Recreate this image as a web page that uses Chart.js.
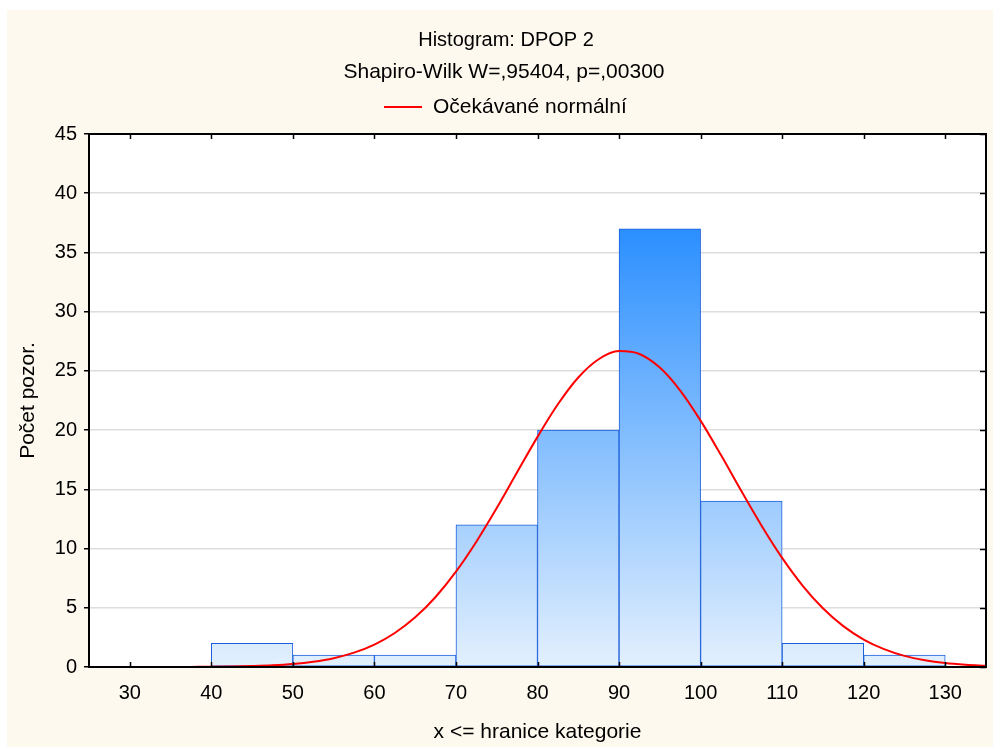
<!DOCTYPE html>
<html>
<head>
<meta charset="utf-8">
<script src="https://cdn.jsdelivr.net/npm/chart.js@4/dist/chart.umd.min.js"></script>
<style>
  html, body { margin: 0; padding: 0; background: #ffffff; }
  #wrap { width: 993px; height: 747px; }
</style>
</head>
<body>
<div id="wrap"><canvas id="c" width="993" height="747"></canvas></div>
<script>
// ---- data ----
const titleText = 'Histogram: DPOP 2';
const subtitleText = 'Shapiro-Wilk W=,95404, p=,00300';
const curveLabel = 'Očekávané normální';
const xAxisTitle = 'x <= hranice kategorie';
const yAxisTitle = 'Počet pozor.';

const binCenters = [35, 45, 55, 65, 75, 85, 95, 105, 115, 125];
const binCounts  = [0, 2, 1, 1, 12, 20, 37, 14, 2, 1];

const curveX = [25, 27.5, 30, 32.5, 35, 37.5, 40, 42.5, 45, 47.5, 50, 52.5, 55, 57.5, 60, 62.5, 65, 67.5, 70, 72.5,
                75, 77.5, 80, 82.5, 85, 87.5, 90, 92.5, 95, 97.5, 100, 102.5, 105, 107.5, 110, 112.5, 115, 117.5,
                120, 122.5, 125, 127.5, 130, 132.5, 135];
const curveY = [0.00, 0.00, 0.00, 0.00, 0.00, 0.01, 0.02, 0.04, 0.08, 0.14, 0.25, 0.44, 0.74, 1.21, 1.89, 2.87, 4.19, 5.91, 8.05, 10.58,
                13.42, 16.44, 19.43, 22.18, 24.44, 25.98, 26.67, 26.43, 25.28, 23.34, 20.80, 17.89, 14.86, 11.91, 9.21, 6.88, 4.96, 3.45,
                2.32, 1.51, 0.94, 0.57, 0.33, 0.19, 0.10];

const xTicks = [30, 40, 50, 60, 70, 80, 90, 100, 110, 120, 130];
const yTicks = [0, 5, 10, 15, 20, 25, 30, 35, 40, 45];

// ---- styling ----
const FONT = '"Liberation Sans", Arial, sans-serif';
const CREAM = '#fdf9ee';

const framePlugin = {
  id: 'frame',
  beforeDraw(chart) {
    const ctx = chart.ctx, a = chart.chartArea;
    ctx.save();
    ctx.fillStyle = '#ffffff';
    ctx.fillRect(0, 0, chart.width, chart.height);
    ctx.fillStyle = CREAM;
    ctx.fillRect(7, 10, chart.width - 7, chart.height - 10);
    ctx.fillStyle = '#ffffff';
    ctx.fillRect(a.left, a.top, a.right - a.left, a.bottom - a.top);
    ctx.restore();
  },
  afterDraw(chart) {
    const ctx = chart.ctx, a = chart.chartArea;
    const xs = chart.scales.x, ys = chart.scales.y;
    ctx.save();
    // inward ticks
    ctx.strokeStyle = '#000';
    ctx.lineWidth = 1.5;
    ctx.beginPath();
    xTicks.forEach(v => {
      const px = Math.round(xs.getPixelForValue(v)) + 0.5;
      ctx.moveTo(px, a.bottom); ctx.lineTo(px, a.bottom - 5);
      ctx.moveTo(px, a.top); ctx.lineTo(px, a.top + 5);
    });
    yTicks.forEach(v => {
      const py = Math.round(ys.getPixelForValue(v)) + 0.5;
      ctx.moveTo(a.right, py); ctx.lineTo(a.right - 6, py);
    });
    ctx.stroke();
    // border
    ctx.lineWidth = 2;
    ctx.strokeRect(a.left, a.top, a.right - a.left, a.bottom - a.top);

    // titles
    ctx.fillStyle = '#000';
    ctx.textAlign = 'center';
    ctx.textBaseline = 'middle';
    ctx.font = '20px ' + FONT;
    ctx.fillText(chart.options.plugins.customText.title, 506, 40);
    ctx.font = '21px ' + FONT;
    ctx.fillText(chart.options.plugins.customText.subtitle, 504, 72);
    // legend (from the line dataset)
    const ds = chart.data.datasets.find(d => d.type === 'line');
    ctx.strokeStyle = ds.borderColor;
    ctx.lineWidth = 2;
    ctx.beginPath();
    ctx.moveTo(384, 107); ctx.lineTo(422, 107);
    ctx.stroke();
    ctx.textAlign = 'left';
    ctx.fillText(ds.label, 433, 107);
    ctx.restore();
  }
};

function barGradient(context) {
  const chart = context.chart;
  const a = chart.chartArea;
  if (!a) return '#7fbbfe';
  const ys = chart.scales.y;
  const top = ys.getPixelForValue(Math.max(...binCounts));
  const bottom = ys.getPixelForValue(0);
  const g = chart.ctx.createLinearGradient(0, top, 0, bottom);
  g.addColorStop(0, '#2b8fff');
  g.addColorStop(1, '#e3f0fd');
  return g;
}

new Chart(document.getElementById('c'), {
  data: {
    datasets: [
      {
        type: 'line',
        label: curveLabel,
        data: curveX.map((x, i) => ({ x: x, y: curveY[i] })),
        borderColor: '#ff0000',
        borderWidth: 2,
        pointRadius: 0,
        fill: false,
        cubicInterpolationMode: 'monotone',
        order: 0
      },
      {
        type: 'bar',
        label: 'Počet',
        data: binCenters.map((x, i) => ({ x: x, y: binCounts[i] })),
        backgroundColor: barGradient,
        borderColor: '#1b5fdc',
        borderWidth: 1,
        borderSkipped: false,
        barPercentage: 1.0,
        categoryPercentage: 1.0,
        order: 1
      }
    ]
  },
  options: {
    responsive: false,
    animation: false,
    devicePixelRatio: 1,
    layout: { padding: { top: 134, left: 14, right: 7, bottom: 0 } },
    plugins: {
      legend: { display: false },
      title: { display: false },
      tooltip: { enabled: false },
      customText: { title: titleText, subtitle: subtitleText }
    },
    scales: {
      x: {
        type: 'linear',
        min: 25,
        max: 135,
        offset: false,
        afterFit(scale) { scale.height = 80; },
        afterBuildTicks(scale) { scale.ticks = xTicks.map(v => ({ value: v })); },
        grid: { display: false, drawTicks: false },
        border: { display: false },
        ticks: {
          color: '#000',
          padding: 14,
          maxRotation: 0,
          autoSkip: false,
          font: { family: FONT, size: 20 }
        },
        title: {
          display: true,
          text: xAxisTitle,
          color: '#000',
          font: { family: FONT, size: 21 },
          padding: { top: 0, bottom: 2 }
        }
      },
      y: {
        min: 0,
        max: 45,
        afterFit(scale) { scale.width = 75; },
        afterBuildTicks(scale) { scale.ticks = yTicks.map(v => ({ value: v })); },
        grid: {
          color: '#dddddd',
          lineWidth: 1.5,
          tickColor: '#000',
          tickLength: 5,
          drawTicks: true
        },
        border: { display: false },
        ticks: {
          color: '#000',
          padding: 7,
          autoSkip: false,
          font: { family: FONT, size: 20 }
        },
        title: {
          display: true,
          text: yAxisTitle,
          color: '#000',
          font: { family: FONT, size: 21 },
          padding: { top: 2, bottom: 0 }
        }
      }
    }
  },
  plugins: [framePlugin]
});
</script>
</body>
</html>
